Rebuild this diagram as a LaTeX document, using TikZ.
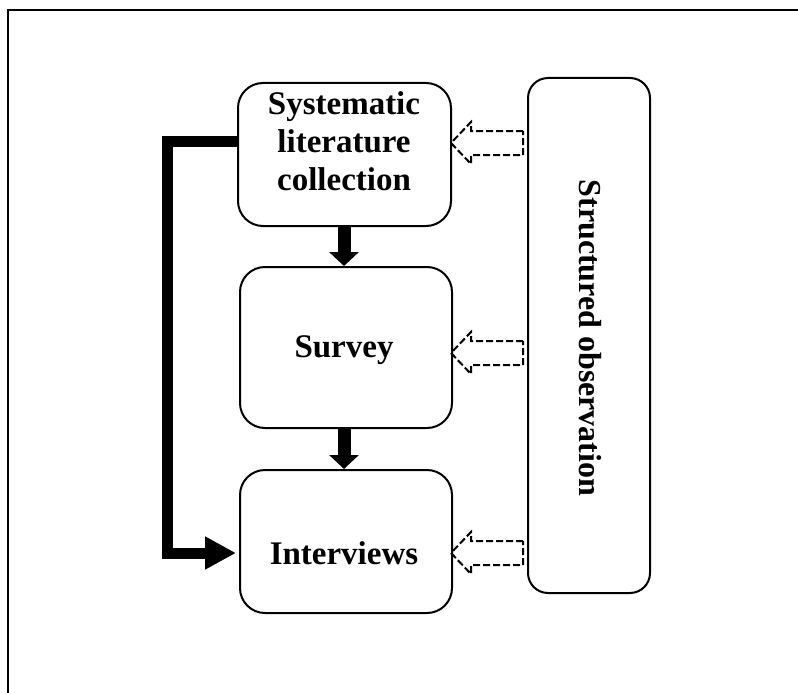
\documentclass[tikz,border=0pt]{standalone}
\usepackage{fontspec}
\setmainfont{Liberation Serif}
\usetikzlibrary{arrows.meta}
\begin{document}
\begin{tikzpicture}[x=1pt,y=-1pt,
  stage/.style={draw, line width=2pt, rounded corners=25pt, inner sep=0pt},
  caption/.style={font=\fontsize{33}{38}\selectfont\bfseries, align=center, inner sep=0pt},
  flow/.style={line width=13pt, -{Triangle[width=29pt,length=14pt]}},
  feed/.style={line width=11pt, -{Triangle[width=31pt,length=31pt]}},
  hollow/.style={draw, line width=2pt, dash pattern=on 7pt off 3pt, line join=miter}]
  \useasboundingbox (0,0) rectangle (798,693);
  % page frame (open to the right and bottom)
  \draw[line width=1.5pt] (8,693) -- (8,10) -- (798,10);

  % stages
  \node[stage, minimum width=213pt, minimum height=143pt] (sys) at (344.5,154.5) {};
  \node[stage, minimum width=212pt, minimum height=161pt] (srv) at (346,347.5) {};
  \node[stage, minimum width=212pt, minimum height=143pt] (int) at (346,541.5) {};
  \node[stage, rounded corners=20pt, minimum width=122pt, minimum height=515pt] (obs) at (589,335.5) {};

  \node[caption] (t1) at (344,141) {Systematic\\literature\\collection};
  \node[caption] (t2) at (344,350) {Survey};
  \node[caption] (t3) at (344,553) {Interviews};
  \node[caption, font=\fontsize{32}{38}\selectfont\bfseries, rotate=-90] (t4) at (590,338) {Structured observation};

  % main sequence
  \draw[flow] (sys.south -| t1) -- (srv.north -| t1);
  \draw[flow] (srv.south -| t2) -- (int.north -| t2);
  % direct link from the literature review to the interviews
  \draw[feed, line join=miter] (t1 -| sys.west) -- ++(-70,0) |- ([xshift=-3pt]t3 -| int.west);

  % hollow dashed arrows from the observation column
  \foreach \yy/\nm in {142/a1, 352/a2, 552/a3}{
    \coordinate (\nm) at (obs.west |- 0,\yy);
    \draw[hollow] ([xshift=-4pt]\nm) ++(0,-11) -- ++(-52,0) -- ++(0,-9) -- ++(-20,21)
      -- ++(20,21) -- ++(0,-9) -- ++(52,0) -- cycle;
  }
\end{tikzpicture}
\end{document}
